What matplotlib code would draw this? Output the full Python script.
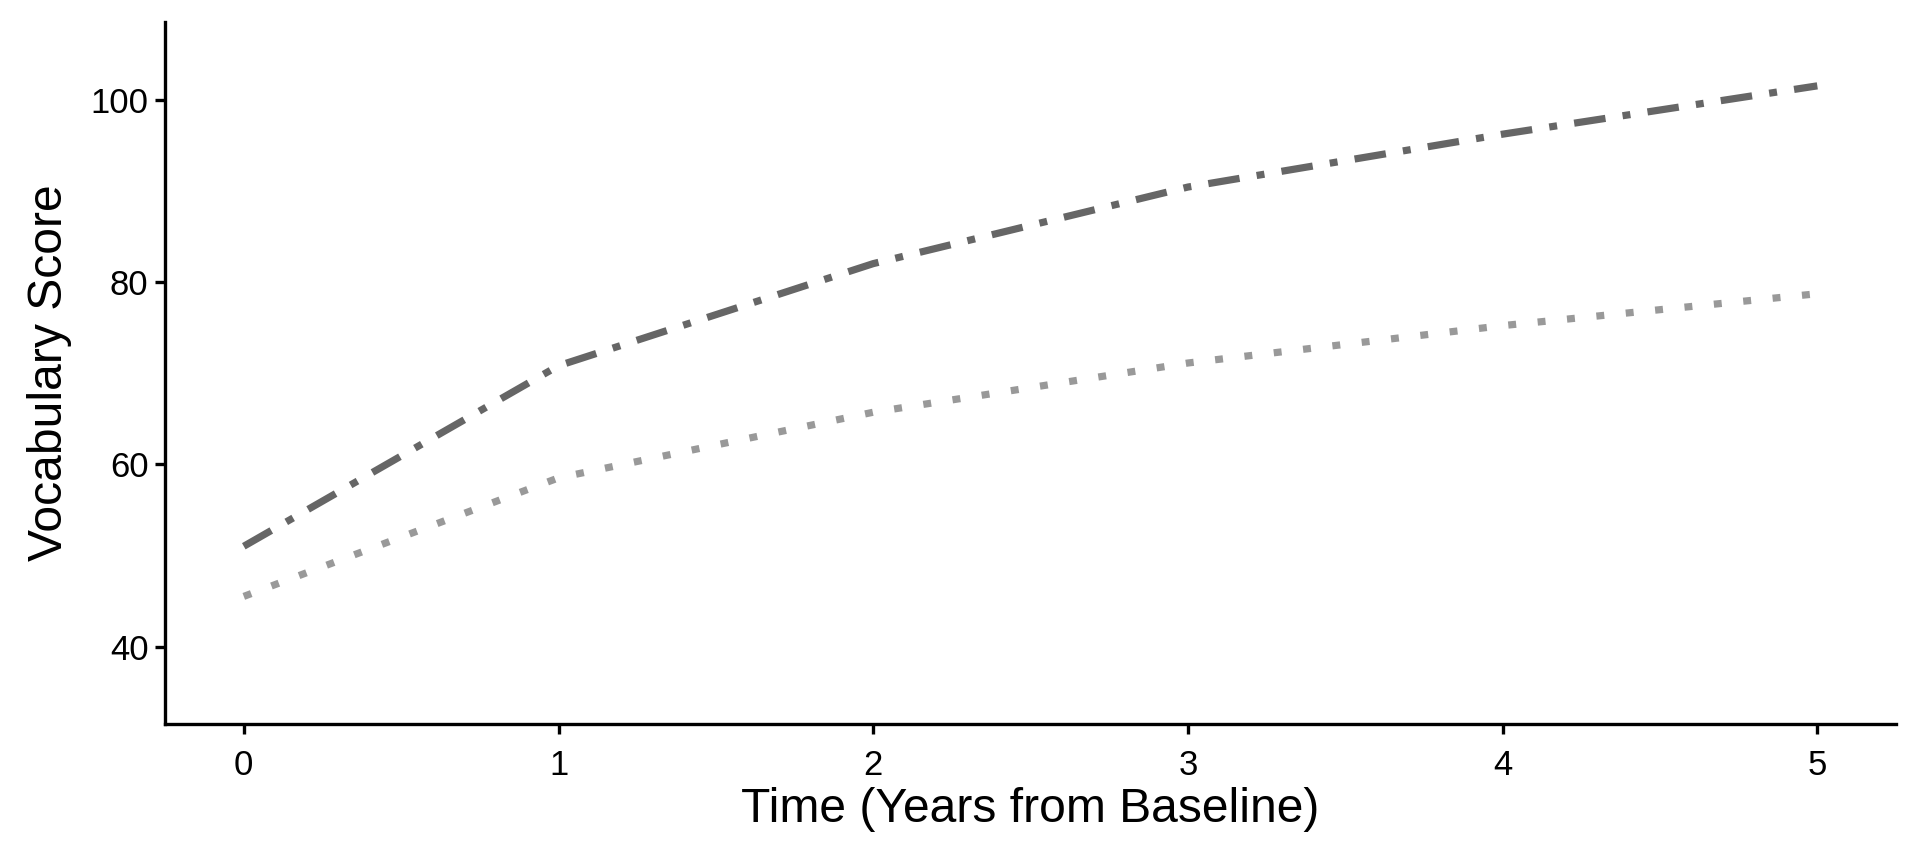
import numpy as np
import matplotlib.pyplot as plt

plt.rcParams['font.family'] = ['Liberation Sans', 'DejaVu Sans']

# values
years = [0, 1, 2, 3, 4, 5]
score_high = [51.0, 70.8, 82.0, 90.4, 96.2, 101.5]
score_low = [45.5, 58.5, 65.7, 71.1, 75.2, 78.7]

fig = plt.figure(figsize=(20, 9), dpi=96)
ax = fig.add_axes([0.086, 0.162, 0.9015, 0.8125])

ax.plot(years, score_high, color="#666666", lw=5.4,
        linestyle=(0, (4.4, 2.4, 1.1, 2.4)), dash_capstyle="butt")
ax.plot(years, score_low, color="#999999", lw=5.4,
        linestyle=(0, (1.1, 3.0)), dash_capstyle="butt")

ax.set_xlim(-0.25, 5.25)
ax.set_ylim(31.5, 108.5)
ax.set_xticks(years)
ax.set_yticks([40, 60, 80, 100])

for side in ["top", "right"]:
    ax.spines[side].set_visible(False)
for side in ["left", "bottom"]:
    ax.spines[side].set_linewidth(2.5)
    ax.spines[side].set_color("black")

ax.tick_params(axis="both", length=7.5, width=2.5, color="black",
               labelsize=26, labelcolor="black")
ax.tick_params(axis="x", pad=11)
ax.tick_params(axis="y", pad=5)

ax.set_xlabel("Time (Years from Baseline)", fontsize=36, labelpad=4)
ax.set_ylabel("Vocabulary Score", fontsize=36, labelpad=14)

fig.savefig("out.png", dpi=96, facecolor="white")
